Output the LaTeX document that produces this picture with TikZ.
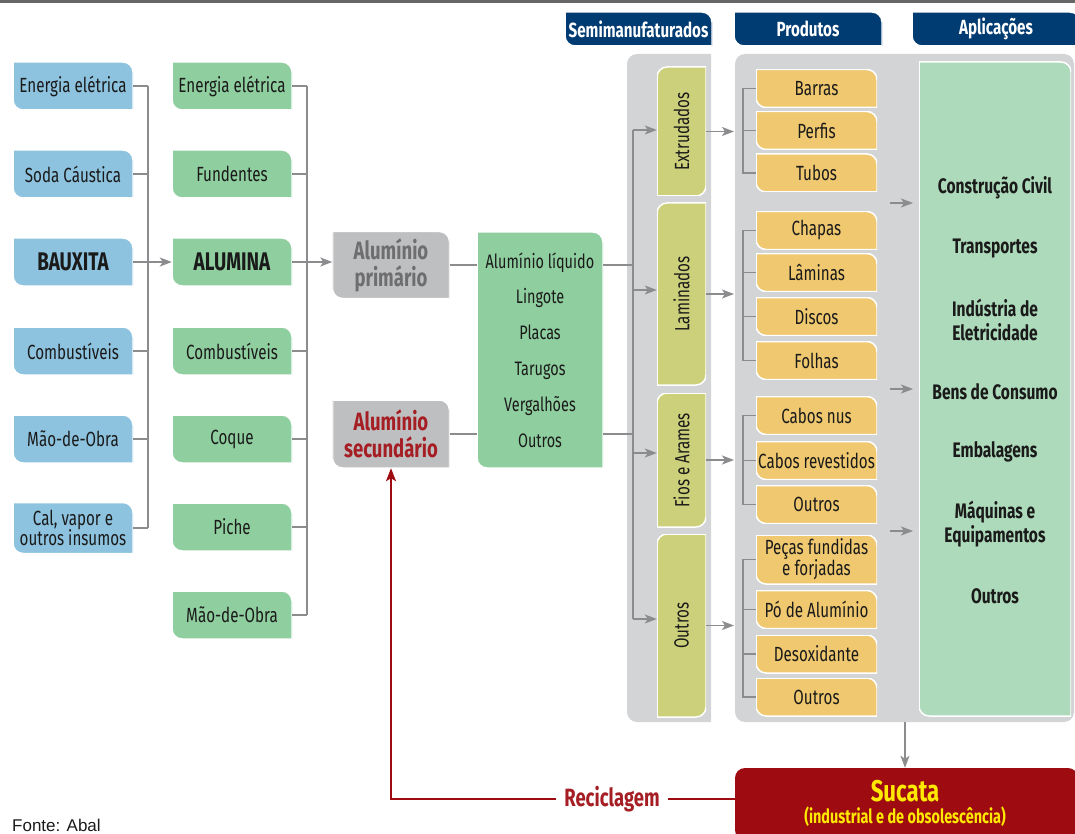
\documentclass[tikz,border=0pt]{standalone}
\usepackage{fontspec}
\setmainfont{Fira Sans}[FakeStretch=0.74]
\newfontfamily\arialfont{Liberation Sans}
\usetikzlibrary{arrows.meta}
\definecolor{cblue}{HTML}{8DC3DF}
\definecolor{cgreen}{HTML}{8FCE9E}
\definecolor{cgray}{HTML}{BEBFC1}
\definecolor{colive}{HTML}{CDD07A}
\definecolor{corange}{HTML}{EFC86F}
\definecolor{capp}{HTML}{ADDABA}
\definecolor{cpanel}{HTML}{D3D4D6}
\definecolor{cnavy}{HTML}{003B71}
\definecolor{cred}{HTML}{9E0B10}
\definecolor{credtext}{HTML}{A51E24}
\definecolor{cyellow}{HTML}{FFE900}
\definecolor{cline}{HTML}{8C8C8E}
\definecolor{ctext}{HTML}{1A1A1A}
\definecolor{cgraytext}{HTML}{6E6E70}
\tikzset{
  leaf/.style={path picture={\filldraw[fill=#1,draw=white,line width=1.5pt]
    (path picture bounding box.north west) -- ([xshift=-10pt]path picture bounding box.north east)
    arc[start angle=90,end angle=0,radius=10pt] -- (path picture bounding box.south east)
    -- ([xshift=10pt]path picture bounding box.south west)
    arc[start angle=270,end angle=180,radius=10pt] -- cycle;}},
  leafv/.style={path picture={\filldraw[fill=#1,draw=white,line width=1.5pt]
    ([yshift=-10pt]path picture bounding box.north west)
    arc[start angle=180,end angle=90,radius=10pt] -- (path picture bounding box.north east)
    -- ([yshift=10pt]path picture bounding box.south east)
    arc[start angle=0,end angle=-90,radius=10pt] -- (path picture bounding box.south west) -- cycle;}},
  lround/.style={path picture={\fill[#1]
    (path picture bounding box.north east) -- (path picture bounding box.south east)
    -- ([xshift=10pt]path picture bounding box.south west)
    arc[start angle=270,end angle=180,radius=10pt]
    -- ([yshift=-10pt]path picture bounding box.north west)
    arc[start angle=180,end angle=90,radius=10pt] -- cycle;}},
  box/.style={minimum width=120pt, minimum height=48pt, inner sep=0pt, align=center,
    text=ctext, font=\fontsize{20.5}{22}\selectfont},
  bigbold/.style={font=\bfseries\fontsize{25.5}{27}\selectfont},
  graybox/.style={leaf=cgray, minimum width=117pt, minimum height=67pt, inner sep=0pt,
    align=center, text=cgraytext, font=\bfseries\fontsize{25}{27}\selectfont},
  semibox/.style={leafv=colive, minimum width=49pt, inner sep=0pt, text=ctext,
    font=\fontsize{20.5}{22}\selectfont},
  prod/.style={leaf=corange, minimum width=121pt, minimum height=38pt, inner sep=0pt,
    align=center, text=ctext, font=\fontsize{20.5}{22}\selectfont},
  hdr/.style={leaf=cnavy, minimum height=34pt, inner sep=0pt, text=white,
    font=\bfseries\fontsize{20.5}{22}\selectfont},
  apptext/.style={align=center, text=ctext, font=\bfseries\fontsize{21}{23.5}\selectfont},
  conn/.style={draw=cline, line width=1.4pt},
  arr/.style={draw=cline, line width=1.4pt, -{Stealth[length=12pt,width=9pt,inset=3pt]}},
  rline/.style={draw=cred, line width=1.8pt},
}
\begin{document}
\begin{tikzpicture}[x=1pt,y=-1pt]
\useasboundingbox (0,0) rectangle (1075,834);
\draw[line width=3.5pt, color=black!60] (0,1) -- (1075,1);

% panels
\node[lround=cpanel, minimum width=84pt, minimum height=668pt, inner sep=0pt] (spanel) at (669,388) {};
\node[fill=cpanel, rounded corners=10pt, minimum width=339pt, minimum height=668pt, inner sep=0pt] (ppanel) at (904.5,388) {};

% headers
\node[hdr, minimum width=147pt] (hs) at (638.5,29) {Semimanufaturados};
\node[hdr, minimum width=148pt] (hp) at (808,29) {Produtos};
\node[hdr, minimum width=168pt] (ha) at (996,29) {Aplicações};

% column 1
\node[box,leaf=cblue] (b1) at (73,86) {Energia elétrica};
\node[box,leaf=cblue] (b2) at (73,174) {Soda Cáustica};
\node[box,leaf=cblue,bigbold] (b3) at (73,262) {BAUXITA};
\node[box,leaf=cblue] (b4) at (73,351) {Combustíveis};
\node[box,leaf=cblue] (b5) at (73,439) {Mão-de-Obra};
\node[box,leaf=cblue,minimum height=51pt] (b6) at (73,528) {Cal, vapor e\\[-2pt]outros insumos};

% column 2
\node[box,leaf=cgreen] (g1) at (232,86) {Energia elétrica};
\node[box,leaf=cgreen] (g2) at (232,174) {Fundentes};
\node[box,leaf=cgreen,bigbold] (g3) at (232,262) {ALUMINA};
\node[box,leaf=cgreen] (g4) at (232,351) {Combustíveis};
\node[box,leaf=cgreen] (g5) at (232,439) {Coque};
\node[box,leaf=cgreen] (g6) at (232,527) {Piche};
\node[box,leaf=cgreen] (g7) at (232,615) {Mão-de-Obra};

% aluminium
\node[graybox] (prim) at (391,265) {Alumínio\\primário};
\node[graybox, text=credtext, minimum height=68pt] (sec) at (391,434) {Alumínio\\secundário};
\node[leaf=cgreen, minimum width=126pt, minimum height=236pt, inner sep=0pt, align=center,
  text=ctext, font=\fontsize{19.5}{35.8}\selectfont] (liq) at (540,350)
  {Alumínio líquido\\Lingote\\Placas\\Tarugos\\Vergalhões\\Outros};

% semimanufaturados
\node[semibox, minimum height=129pt] (ext) at (681.5,131.5) {\rotatebox{90}{Extrudados}};
\node[semibox, minimum height=182pt] (lam) at (681.5,294) {\rotatebox{90}{Laminados}};
\node[semibox, minimum height=134pt] (fio) at (681.5,460) {\rotatebox{90}{Fios e Arames}};
\node[semibox, minimum height=183pt] (out) at (681.5,625.5) {\rotatebox{90}{Outros}};

% produtos
\node[prod] (p1) at (816.5,88.5) {Barras};
\node[prod] (p2) at (816.5,130.5) {Perfis};
\node[prod] (p3) at (816.5,173) {Tubos};
\node[prod] (p4) at (816.5,230.5) {Chapas};
\node[prod] (p5) at (816.5,272.5) {Lâminas};
\node[prod] (p6) at (816.5,316.5) {Discos};
\node[prod] (p7) at (816.5,360.5) {Folhas};
\node[prod] (p8) at (816.5,415.5) {Cabos nus};
\node[prod] (p9) at (816.5,460.5) {Cabos revestidos};
\node[prod] (p10) at (816.5,504.5) {Outros};
\node[prod, minimum height=49pt, font=\fontsize{20.5}{21}\selectfont] (p11) at (816.5,559.5) {Peças fundidas\\e forjadas};
\node[prod] (p12) at (816.5,609.5) {Pó de Alumínio};
\node[prod] (p13) at (816.5,654) {Desoxidante};
\node[prod] (p14) at (816.5,697) {Outros};

% aplicacoes
\node[leaf=capp, minimum width=152pt, minimum height=654pt, inner sep=0pt] (app) at (995,389) {};
\node[apptext] (a1) at (995,188) {Construção Civil};
\node[apptext] (a2) at (995,249) {Transportes};
\node[apptext] (a3) at (995,320) {Indústria de\\Eletricidade};
\node[apptext] (a4) at (995,392) {Bens de Consumo};
\node[apptext] (a5) at (995,452) {Embalagens};
\node[apptext] (a6) at (995,524) {Máquinas e\\Equipamentos};
\node[apptext] (a7) at (995,596) {Outros};

% sucata
\node[fill=cred, rounded corners=10pt, minimum width=343pt, minimum height=72pt, inner sep=0pt] (suc) at (906.5,804) {};
\node[text=cyellow, font=\bfseries\fontsize{30}{32}\selectfont] (suct) at (905,791) {Sucata};
\node[text=cyellow, font=\bfseries\fontsize{19.5}{21}\selectfont] (sucs) at (905,817) {(industrial e de obsolescência)};
\node[text=credtext, inner xsep=8pt, font=\bfseries\fontsize{25}{26}\selectfont] (rec) at (612,799) {Reciclagem};

\node[anchor=north west, inner sep=0pt, text=ctext, font=\arialfont\fontsize{17}{18}\selectfont] (src) at (12,819) {Fonte: Abal};

% connectors column 1
\coordinate (j1) at (148,86);
\coordinate (j6) at (148,528);
\foreach \n in {b1,b2,b4,b5,b6} \draw[conn] (\n.east) -- (\n.east -| j1);
\draw[conn] (j1) -- (j6);
\draw[arr] (b3.east) -- (g3.west);

% connectors column 2
\coordinate (k1) at (307,86);
\coordinate (k7) at (307,615);
\foreach \n in {g1,g2,g4,g5,g6,g7} \draw[conn] (\n.east) -- (\n.east -| k1);
\draw[conn] (k1) -- (k7);
\draw[arr] (g3.east) -- (prim.west |- g3.east);

% to liquid
\draw[conn] (prim.east) -- (liq.west |- prim.east);
\draw[conn] (sec.east) -- (liq.west |- sec.east);
\coordinate (t1) at (633,130);
\coordinate (t2) at (633,290);
\coordinate (t3) at (633,453);
\coordinate (t4) at (633,619);
\draw[conn] (liq.east |- prim.east) -- (prim.east -| t1);
\draw[conn] (liq.east |- sec.east) -- (sec.east -| t1);
\draw[conn] (t1) -- (t4);
\draw[arr] (t1) -- (t1 -| ext.west);
\draw[arr] (t2) -- (t2 -| lam.west);
\draw[arr] (t3) -- (t3 -| fio.west);
\draw[arr] (t4) -- (t4 -| out.west);

% to products
\coordinate (bx) at (743,0);
\coordinate (ae) at (734,0);
\draw[arr] (ext.east) -- (ext.east -| ae);
\draw[arr] (lam.east) -- (lam.east -| ae);
\draw[arr] (fio.east) -- (fio.east -| ae);
\draw[arr] (out.east) -- (out.east -| ae);
\draw[conn] (p1.west) -- (p1.west -| bx) -- (p3.west -| bx) -- (p3.west);
\draw[conn] (p2.west) -- (p2.west -| bx);
\draw[conn] (p4.west) -- (p4.west -| bx) -- (p7.west -| bx) -- (p7.west);
\foreach \n in {p5,p6} \draw[conn] (\n.west) -- (\n.west -| bx);
\draw[conn] (p8.west) -- (p8.west -| bx) -- (p10.west -| bx) -- (p10.west);
\draw[conn] (p9.west) -- (p9.west -| bx);
\draw[conn] (p11.west) -- (p11.west -| bx) -- (p14.west -| bx) -- (p14.west);
\foreach \n in {p12,p13} \draw[conn] (\n.west) -- (\n.west -| bx);

% to applications
\coordinate (c1) at (890,203);
\coordinate (c2) at (890,389);
\coordinate (c3) at (890,531);
\coordinate (ce) at (913,0);
\foreach \n in {c1,c2,c3} \draw[arr] (\n) -- (\n -| ce);

% to sucata & recycling
\draw[arr] (ppanel.south -| suct) -- (suc.north -| suct);
\draw[rline] (suc.west |- rec.east) -- (rec.east);
\draw[rline, -{Stealth[length=13pt,width=10pt,inset=3pt]}] (rec.west) -- (rec.west -| sec.south) -- (sec.south);
\end{tikzpicture}
\end{document}
